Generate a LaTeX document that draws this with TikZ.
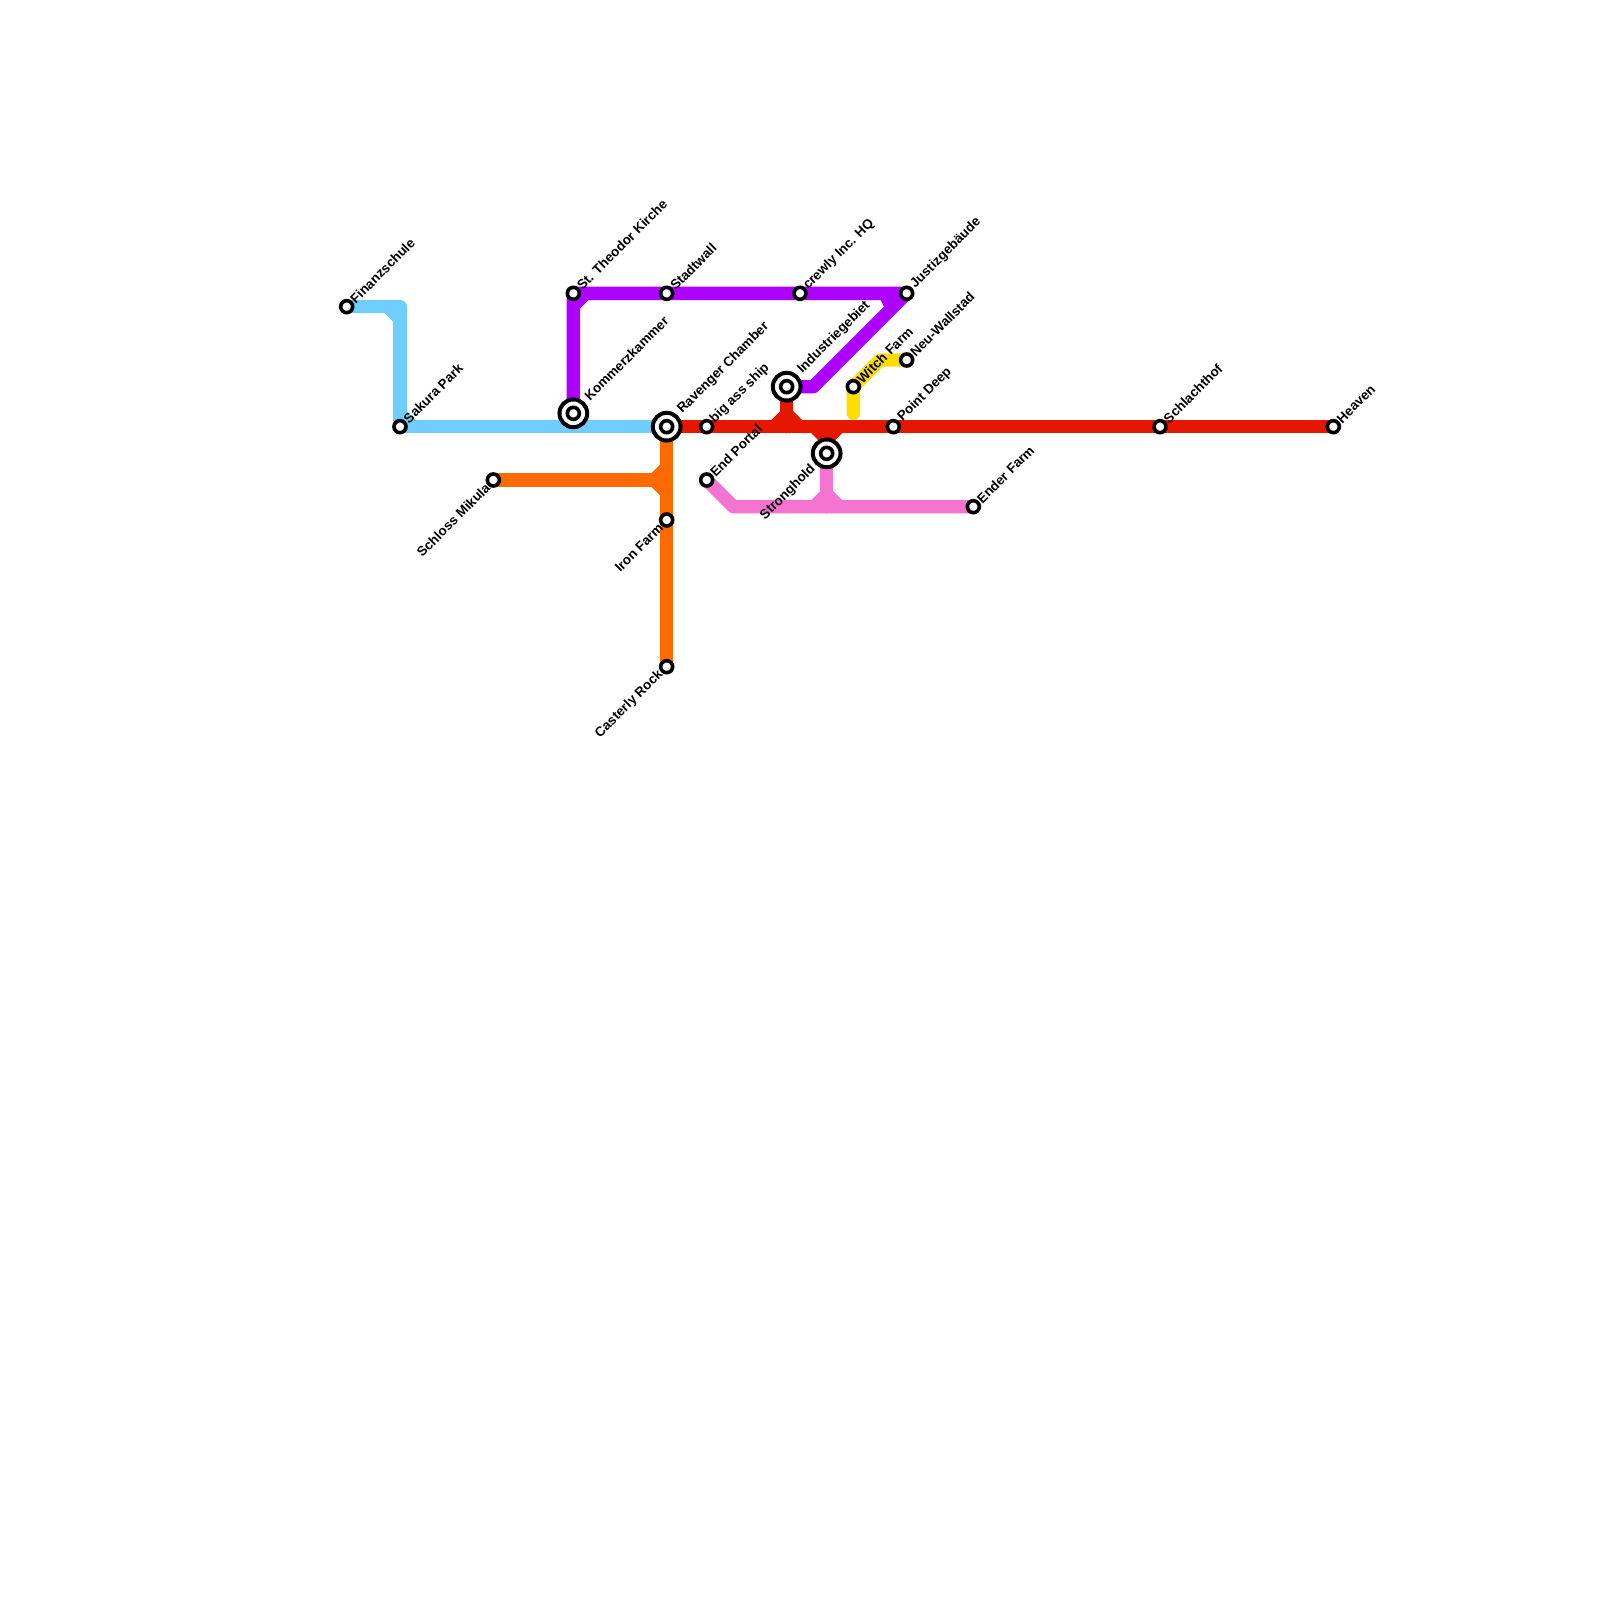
\documentclass[tikz,border=0pt]{standalone}
\usepackage{fontspec}
\setmainfont{Liberation Sans}
\usetikzlibrary{backgrounds}
\definecolor{Sky}{RGB}{111,206,255}
\definecolor{Violet}{RGB}{174,0,255}
\definecolor{Signal}{RGB}{230,23,0}
\definecolor{Amber}{RGB}{255,106,0}
\definecolor{Rose}{RGB}{245,115,209}
\definecolor{Lemon}{RGB}{255,221,0}
% small triangle in the inner corner of a junction
\newcommand{\notch}[4]{\fill[#1] (#2) ++({#3*.4},{#4*.4}) -- ++({#3*.85},0) -- ++({-#3*.85},{#4*.85}) -- cycle;}

\begin{document}
\begin{tikzpicture}[x=.25cm,y=-.25cm,
 stop/.style={circle,draw=black,fill=white,line width=.068cm,minimum size=.225cm,inner sep=0pt},
 hub/.style={circle,draw=black,fill=white,line width=.075cm,minimum size=.52cm,inner sep=0pt},
 ne/.style={font=\fontsize{7.15}{8}\selectfont\bfseries,rotate=45,anchor=west,inner sep=0pt},
 sw/.style={font=\fontsize{7.15}{8}\selectfont\bfseries,rotate=45,anchor=east,inner sep=0pt},
 hubne/.style={ne,label distance=3.5pt,xshift=-.4pt,yshift=-1.8pt},
 ln/.style={line width=.25cm,line cap=round,line join=round}]
\useasboundingbox (0,0) rectangle (120,120);
% stations
\node[stop,label={[ne]45:Finanzschule}] (fin) at (26,23) {};
\node[stop,label={[ne]45:Sakura Park}] (sak) at (30,32) {};
\node[stop,label={[ne]45:St. Theodor Kirche}] (the) at (43,22) {};
\node[hub,label={[hubne]45:Kommerzkammer}] (kom) at (43,31) {};
\node[stop] (komi) at (kom) {};
\node[stop,label={[ne]45:Stadtwall}] (sta) at (50,22) {};
\node[hub,label={[hubne]45:Ravenger Chamber}] (rav) at (50,32) {};
\node[stop] (ravi) at (rav) {};
\node[stop,label={[ne]45:crewly Inc. HQ}] (cre) at (60,22) {};
\node[stop,label={[ne,label distance=2pt,xshift=-.6pt,yshift=-1pt]45:Justizgebäude}] (jus) at (68,22) {};
\node[hub,label={[hubne]45:Industriegebiet}] (ind) at (59,29) {};
\node[stop] (indi) at (ind) {};
\node[stop,label={[ne]45:Witch Farm}] (wit) at (64,29) {};
\node[stop,label={[ne]45:Neu-Wallstad}] (neu) at (68,27) {};
\node[stop,label={[ne]45:big ass ship}] (big) at (53,32) {};
\node[stop,label={[ne,label distance=2pt,xshift=-.5pt,yshift=-1.2pt]45:Point Deep}] (poi) at (67,32) {};
\node[stop,label={[ne]45:Schlachthof}] (sch) at (87,32) {};
\node[stop,label={[ne]45:Heaven}] (hea) at (100,32) {};
\node[stop,label={[ne]45:End Portal}] (end) at (53,36) {};
\node[stop,label={[ne]45:Ender Farm}] (enf) at (73,38) {};
\node[hub,label={[sw,label distance=3.5pt,xshift=.85pt,yshift=2.3pt]225:Stronghold}] (str) at (62,34) {};
\node[stop] (stri) at (str) {};
\node[stop,label={[sw]225:Schloss Mikula}] (mik) at (37,36) {};
\node[stop,label={[sw]225:Iron Farm}] (iro) at (50,39) {};
\node[stop,label={[sw]225:Casterly Rock}] (cas) at (50,50) {};
% bends and junctions
\coordinate (bc) at (30,23);
\coordinate (pc) at (43,22);
\coordinate (pd) at (61,29);
\coordinate (oj) at (50,36);
\coordinate (rj) at (59,32);
\coordinate (rk) at (62,32);
\coordinate (pb) at (55,38);
\coordinate (pj) at (62,38);
\coordinate (yb) at (64,31);
\coordinate (yk) at (66,27);
\begin{scope}[on background layer]
\draw[ln,Sky] (fin.center)--(bc)--(sak.center)--(rav.center);
\notch{Sky}{bc}{-1}{1}
\notch{Sky}{sak.center}{1}{-1}
\draw[ln,Violet] (kom.center)--(the.center)--(jus.center)--(pd)--(ind.center);
\notch{Violet}{pc}{1}{1}
\fill[Violet] (jus.center) ++(-2,.4) -- ++(1,0) -- ++(-.7,.6) -- cycle;
\draw[ln,Signal] (rav.center)--(hea.center);
\draw[ln,Signal] (ind.center)--(rj);
\draw[ln,Signal] (str.center)--(rk);
\notch{Signal}{rj}{-1}{-1}
\notch{Signal}{rj}{1}{-1}
\notch{Signal}{rk}{-1}{1}
\notch{Signal}{rk}{1}{1}
\draw[ln,Amber] (rav.center)--(cas.center);
\draw[ln,Amber] (mik.center)--(oj);
\notch{Amber}{oj}{-1}{-1}
\notch{Amber}{oj}{-1}{1}
\draw[ln,Rose] (end.center)--(pb)--(enf.center);
\draw[ln,Rose] (str.center)--(pj);
\notch{Rose}{pj}{-1}{-1}
\notch{Rose}{pj}{1}{-1}
\draw[ln,Lemon] (yb)--(wit.center)--(yk)--(neu.center);
\end{scope}
\end{tikzpicture}
\end{document}
